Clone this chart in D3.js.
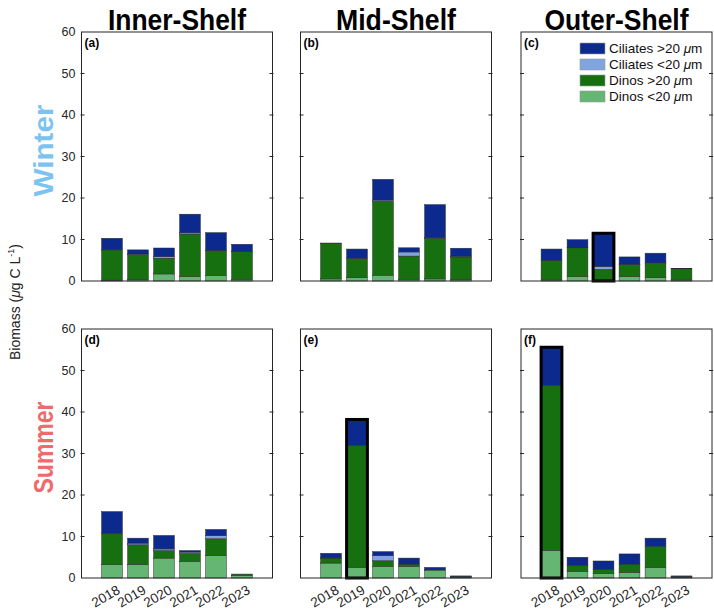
<!DOCTYPE html>
<html>
<head>
<meta charset="utf-8">
<script src="https://cdn.jsdelivr.net/npm/d3@7"></script>
<style>
  body { margin: 0; background: #fff; }
  text { font-family: "Liberation Sans", Arial, sans-serif; }
</style>
</head>
<body>
<script>
// years on the x axis
var years = ["2018", "2019", "2020", "2021", "2022", "2023"];
var regions = ["Inner-Shelf", "Mid-Shelf", "Outer-Shelf"];
var seasons = ["Winter", "Summer"];
var panelTags = ["(a)", "(b)", "(c)", "(d)", "(e)", "(f)"];
var yTicks = [0, 10, 20, 30, 40, 50, 60];

// stacked series, bottom to top; one row per panel (a..f), one value per year
var seriesKeys = ["dinosSmall", "dinosLarge", "ciliatesSmall", "ciliatesLarge"];
var seriesLabels = ["Dinos <20 \u03bcm", "Dinos >20 \u03bcm", "Ciliates <20 \u03bcm", "Ciliates >20 \u03bcm"];
var seriesColors = ["#66b673", "#17700f", "#7fa4de", "#0c2a8d"];

var dinosSmall = [
    [0.2, 0.3, 1.7, 1.05, 1.3, 0.4],
    [0.5, 0.8, 1.4, 0.4, 0.5, 0.3],
    [0.25, 1.05, 0.3, 1.05, 0.8, 0.25],
    [3.2, 3.2, 4.8, 4.0, 5.4, 0.65],
    [3.6, 2.55, 2.8, 2.8, 1.9, 0.2],
    [6.65, 1.6, 1.1, 1.35, 2.55, 0.2]
];
var dinosLarge = [
    [7.3, 6.1, 3.8, 10.25, 6.0, 6.65],
    [8.55, 4.65, 17.8, 5.6, 9.8, 5.5],
    [4.75, 6.95, 2.5, 2.95, 3.45, 2.7],
    [7.55, 4.8, 1.8, 1.9, 4.05, 0.3],
    [1.2, 29.35, 1.35, 0.55, 0.1, 0.15],
    [39.75, 1.45, 1.0, 2.0, 5.05, 0.15]
];
var ciliatesSmall = [
    [0.0, 0.1, 0.35, 0.3, 0.05, 0.05],
    [0.0, 0.0, 0.3, 1.0, 0.1, 0.2],
    [0.0, 0.05, 0.65, 0.05, 0.1, 0.0],
    [0.0, 0.4, 0.4, 0.35, 0.75, 0.0],
    [0.05, 0.0, 1.25, 0.0, 0.0, 0.05],
    [0.0, 0.0, 0.0, 0.0, 0.0, 0.05]
];
var ciliatesLarge = [
    [2.8, 1.0, 2.1, 4.5, 4.3, 1.75],
    [0.1, 2.25, 5.0, 1.0, 8.0, 1.9],
    [2.7, 1.9, 8.05, 1.75, 2.35, 0.05],
    [5.25, 1.2, 3.25, 0.35, 1.5, 0.0],
    [1.1, 6.3, 0.95, 1.45, 0.55, 0.1],
    [9.2, 1.95, 2.0, 2.45, 2.0, 0.1]
];
// bars drawn with a heavy outline: [panel index, year]
var highlighted = [[2, "2020"], [4, "2019"], [5, "2018"]];

var width = 714,
    height = 611;

var panelW = 191,
    panelH = 249,
    panelLefts = [81.5, 300.5, 521],
    panelTops = [32, 329];

var svg = d3.select("body")
    .append("svg")
    .attr("width", width)
    .attr("height", height);

var x = d3.scaleBand()
    .domain(years)
    .range([0, panelW])
    .paddingInner(0.2)
    .paddingOuter(0.773);

var y = d3.scaleLinear()
    .domain([0, 60])
    .range([panelH, 0]);

var color = d3.scaleOrdinal()
    .domain(seriesKeys)
    .range(seriesColors);

var stack = d3.stack().keys(seriesKeys);
var seriesData = { dinosSmall: dinosSmall, dinosLarge: dinosLarge, ciliatesSmall: ciliatesSmall, ciliatesLarge: ciliatesLarge };

// column titles
regions.forEach(function (r, i) {
    svg.append("text")
        .attr("x", panelLefts[i] + panelW / 2)
        .attr("y", 30)
        .attr("text-anchor", "middle")
        .attr("font-size", 30)
        .attr("font-weight", "bold")
        .attr("textLength", [138, 120, 144][i])
        .attr("lengthAdjust", "spacingAndGlyphs")
        .text(r);
});

// season labels
var seasonColors = ["#7cc4ef", "#ee6a6c"];
seasons.forEach(function (s, j) {
    svg.append("text")
        .attr("transform", "translate(53," + (panelTops[j] + panelH / 2 - 6) + ") rotate(-90)")
        .attr("text-anchor", "middle")
        .attr("font-size", 28)
        .attr("font-weight", "bold")
        .attr("fill", seasonColors[j])
        .attr("textLength", 92)
        .attr("lengthAdjust", "spacingAndGlyphs")
        .text(s);
});

// y axis label
var ylab = svg.append("text")
    .attr("transform", "translate(20,302) rotate(-90)")
    .attr("text-anchor", "middle")
    .attr("font-size", 14)
    .attr("fill", "#222");
ylab.append("tspan").text("Biomass (");
ylab.append("tspan").attr("font-style", "italic").text("\u03bc");
ylab.append("tspan").text("g C L");
ylab.append("tspan").attr("font-size", 9).attr("dy", -6).text("-1");
ylab.append("tspan").attr("dy", 6).text(")");

function drawPanel(p) {
    var col = p % 3,
        row = Math.floor(p / 3);

    var g = svg.append("g")
        .attr("transform", "translate(" + panelLefts[col] + "," + panelTops[row] + ")");

    var rows = years.map(function (yr, k) {
        var o = { year: yr };
        seriesKeys.forEach(function (key) { o[key] = seriesData[key][p][k]; });
        return o;
    });
    var stacked = stack(rows);

    g.selectAll(".layer")
        .data(stacked)
        .enter()
        .append("g")
        .attr("class", "layer")
        .attr("fill", function (d) { return color(d.key); })
        .selectAll("rect")
        .data(function (d) { return d; })
        .enter()
        .append("rect")
        .attr("x", function (d) { return x(d.data.year); })
        .attr("width", x.bandwidth())
        .attr("y", function (d) { return y(d[1]); })
        .attr("height", function (d) { return y(d[0]) - y(d[1]); })
        .attr("stroke", "#2a2a2a")
        .attr("stroke-width", 0.5);

    // heavy outline around highlighted bars
    var topLayer = stacked[stacked.length - 1];
    highlighted.filter(function (h) { return h[0] === p; }).forEach(function (h) {
        var k = years.indexOf(h[1]);
        g.append("rect")
            .attr("x", x(h[1]))
            .attr("width", x.bandwidth())
            .attr("y", y(topLayer[k][1]))
            .attr("height", y(0) - y(topLayer[k][1]))
            .attr("fill", "none")
            .attr("stroke", "#000")
            .attr("stroke-width", 3);
    });

    // frame
    g.append("rect")
        .attr("width", panelW)
        .attr("height", panelH)
        .attr("fill", "none")
        .attr("stroke", "#262626")
        .attr("stroke-width", 1);

    // ticks on both sides
    g.selectAll(".tl")
        .data(yTicks.slice(1, -1))
        .enter()
        .append("line")
        .attr("x1", -1).attr("x2", 3)
        .attr("y1", function (d) { return y(d); })
        .attr("y2", function (d) { return y(d); })
        .attr("stroke", "#262626");
    g.selectAll(".tr")
        .data(yTicks.slice(1, -1))
        .enter()
        .append("line")
        .attr("x1", panelW - 3).attr("x2", panelW + 1)
        .attr("y1", function (d) { return y(d); })
        .attr("y2", function (d) { return y(d); })
        .attr("stroke", "#262626");

    if (col === 0) {
        g.selectAll(".yl")
            .data(yTicks)
            .enter()
            .append("text")
            .attr("x", -6)
            .attr("y", function (d) { return y(d); })
            .attr("dy", "0.35em")
            .attr("text-anchor", "end")
            .attr("font-size", 12.5)
            .attr("fill", "#262626")
            .text(function (d) { return d; });
    }

    if (row === 1) {
        g.selectAll(".xl")
            .data(years)
            .enter()
            .append("text")
            .attr("transform", function (d) {
                return "translate(" + (x(d) + x.bandwidth() / 2 + 4) + "," + (panelH + 6) + ") rotate(-30)";
            })
            .attr("dy", "0.75em")
            .attr("text-anchor", "end")
            .attr("font-size", 13.5)
            .attr("fill", "#262626")
            .text(function (d) { return d; });
    }

    g.append("text")
        .attr("x", 3)
        .attr("y", 15)
        .attr("font-size", 12)
        .attr("font-weight", "bold")
        .text(panelTags[p]);

    // legend in panel (c)
    if (p === 2) {
        var legendOrder = [3, 2, 1, 0];
        var lg = g.append("g").attr("transform", "translate(59,11)");
        legendOrder.forEach(function (s, i) {
            lg.append("rect")
                .attr("x", 0)
                .attr("y", i * 16)
                .attr("width", 25)
                .attr("height", 11)
                .attr("fill", seriesColors[s])
                .attr("stroke", "#999")
                .attr("stroke-width", 0.6);
            var t = lg.append("text")
                .attr("x", 29)
                .attr("y", i * 16 + 5.5)
                .attr("dy", "0.35em")
                .attr("font-size", 13.5)
                .attr("fill", "#111");
            var lab = seriesLabels[s].split("\u03bc");
            t.append("tspan").text(lab[0]);
            t.append("tspan").attr("font-style", "italic").text("\u03bc");
            t.append("tspan").text(lab[1]);
        });
    }
}

for (var p = 0; p < 6; p++) {
    drawPanel(p);
}
</script>
</body>
</html>
